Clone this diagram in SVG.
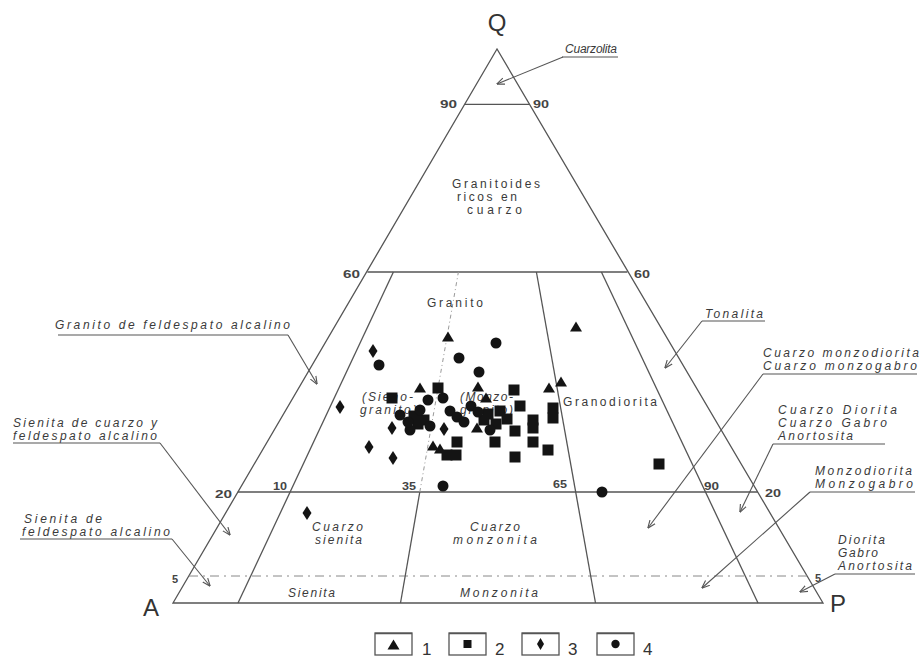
<svg xmlns="http://www.w3.org/2000/svg" width="921" height="666" viewBox="0 0 921 666">
<style>
.ln{stroke:#555;stroke-width:1.3;fill:none}
.dl{stroke:#888;stroke-width:1;fill:none;stroke-dasharray:9 5 2 5}
.dt{stroke:#999;stroke-width:1;fill:none;stroke-dasharray:4 3 1 3}
.ar{stroke:#555;stroke-width:1.1;fill:none;marker-end:url(#ah)}
.ul{stroke:#555;stroke-width:1.1;fill:none}
.t{font-family:"Liberation Sans",Arial,sans-serif;font-size:12px;fill:#3a3a3a;font-style:italic}
.tu{font-family:"Liberation Sans",Arial,sans-serif;font-size:12px;fill:#3a3a3a}
.n{font-family:"Liberation Sans",Arial,sans-serif;font-size:11px;fill:#444;font-weight:bold}
.v{font-family:"Liberation Sans",Arial,sans-serif;font-size:24px;fill:#333}
.lg{font-family:"Liberation Sans",Arial,sans-serif;font-size:17px;fill:#333}
.s{fill:#141414}
</style>
<defs>
<marker id="ah" viewBox="0 0 10 10" refX="9.5" refY="5" markerWidth="8" markerHeight="8" markerUnits="userSpaceOnUse" orient="auto">
<path d="M0,1 L10,5 L0,9" fill="none" stroke="#555" stroke-width="1.4"/>
</marker>
<polygon id="tri" points="0,-5.5 6,4.5 -6,4.5" class="s"/>
<rect id="sq" x="-5.5" y="-5.5" width="11" height="11" class="s"/>
<polygon id="dia" points="0,-7 4.5,0 0,7 -4.5,0" class="s"/>
<circle id="cir" r="5.5" class="s"/>
</defs>

<g id="frame">
<polygon class="ln" points="497,49 173,603 823,603"/>
<line class="ln" x1="464.6" y1="104.4" x2="529.6" y2="104.4"/>
<line class="ln" x1="367.4" y1="272" x2="627.4" y2="272"/>
<line class="ln" x1="237.8" y1="492" x2="757.8" y2="492"/>
<line class="dl" x1="189" y1="576" x2="807" y2="576"/>
<line class="ln" x1="238" y1="603" x2="393.4" y2="272"/>
<line class="ln" x1="400.5" y1="603" x2="419.8" y2="492"/>
<line class="dt" x1="419.8" y1="492" x2="458.4" y2="272"/>
<line class="ln" x1="595.5" y1="603" x2="536.4" y2="272"/>
<line class="ln" x1="758" y1="603" x2="601.4" y2="272"/>
</g>

<g id="vertex-labels">
<text class="v" x="497" y="31" text-anchor="middle" font-size="22">Q</text>
<text class="v" x="143" y="616">A</text>
<text class="v" x="830" y="612">P</text>
</g>

<g id="tick-labels">
<text class="n" x="440" y="108" textLength="17" lengthAdjust="spacingAndGlyphs">90</text>
<text class="n" x="533" y="108" textLength="16" lengthAdjust="spacingAndGlyphs">90</text>
<text class="n" x="343" y="278" textLength="17" lengthAdjust="spacingAndGlyphs">60</text>
<text class="n" x="634" y="278" textLength="16" lengthAdjust="spacingAndGlyphs">60</text>
<text class="n" x="215" y="498" textLength="17" lengthAdjust="spacingAndGlyphs">20</text>
<text class="n" x="765" y="497" textLength="16" lengthAdjust="spacingAndGlyphs">20</text>
<text class="n" x="273" y="490" textLength="14" lengthAdjust="spacingAndGlyphs">10</text>
<text class="n" x="402" y="490" textLength="14" lengthAdjust="spacingAndGlyphs">35</text>
<text class="n" x="553" y="488" textLength="14" lengthAdjust="spacingAndGlyphs">65</text>
<text class="n" x="704" y="490" textLength="15" lengthAdjust="spacingAndGlyphs">90</text>
<text class="n" x="172" y="583">5</text>
<text class="n" x="815" y="582">5</text>
</g>

<g id="field-labels">
<text class="tu" x="452" y="188" textLength="88" lengthAdjust="spacing">Granitoides</text>
<text class="tu" x="457" y="201" textLength="60" lengthAdjust="spacing">ricos en</text>
<text class="tu" x="467" y="214" textLength="55" lengthAdjust="spacing">cuarzo</text>
<text class="tu" x="427" y="307" textLength="56" lengthAdjust="spacing">Granito</text>
<text class="t" x="362" y="401" textLength="51" lengthAdjust="spacing">(Sieno-</text>
<text class="t" x="360" y="414" textLength="57" lengthAdjust="spacing">granito)</text>
<text class="t" x="460" y="401" textLength="53" lengthAdjust="spacing">(Monzo-</text>
<text class="t" x="460" y="414" textLength="53" lengthAdjust="spacing">granito)</text>
<text class="tu" x="563" y="406" textLength="94" lengthAdjust="spacing">Granodiorita</text>
<text class="t" x="312" y="531" textLength="51" lengthAdjust="spacing">Cuarzo</text>
<text class="t" x="315" y="544" textLength="47" lengthAdjust="spacing">sienita</text>
<text class="t" x="470" y="531" textLength="50" lengthAdjust="spacing">Cuarzo</text>
<text class="t" x="453" y="544" textLength="84" lengthAdjust="spacing">monzonita</text>
<text class="t" x="288" y="597" textLength="47" lengthAdjust="spacing">Sienita</text>
<text class="t" x="460" y="597" textLength="78" lengthAdjust="spacing">Monzonita</text>
</g>

<g id="callout-labels">
<text class="t" x="565" y="53" textLength="52" lengthAdjust="spacing">Cuarzolita</text>
<text class="t" x="55" y="329" textLength="235" lengthAdjust="spacing">Granito de feldespato alcalino</text>
<text class="t" x="13" y="427" textLength="144" lengthAdjust="spacing">Sienita de cuarzo y</text>
<text class="t" x="13" y="440" textLength="144" lengthAdjust="spacing">feldespato alcalino</text>
<text class="t" x="24" y="523" textLength="78" lengthAdjust="spacing">Sienita de</text>
<text class="t" x="22" y="536" textLength="148" lengthAdjust="spacing">feldespato alcalino</text>
<text class="t" x="705" y="318" textLength="58" lengthAdjust="spacing">Tonalita</text>
<text class="t" x="763" y="357" textLength="156" lengthAdjust="spacing">Cuarzo monzodiorita</text>
<text class="t" x="763" y="370" textLength="154" lengthAdjust="spacing">Cuarzo monzogabro</text>
<text class="t" x="778" y="414" textLength="119" lengthAdjust="spacing">Cuarzo Diorita</text>
<text class="t" x="778" y="427" textLength="109" lengthAdjust="spacing">Cuarzo Gabro</text>
<text class="t" x="778" y="440" textLength="75" lengthAdjust="spacing">Anortosita</text>
<text class="t" x="815" y="475" textLength="97" lengthAdjust="spacing">Monzodiorita</text>
<text class="t" x="815" y="488" textLength="98" lengthAdjust="spacing">Monzogabro</text>
<text class="t" x="838" y="544" textLength="47" lengthAdjust="spacing">Diorita</text>
<text class="t" x="838" y="557" textLength="40" lengthAdjust="spacing">Gabro</text>
<text class="t" x="838" y="570" textLength="74" lengthAdjust="spacing">Anortosita</text>
</g>

<g id="connectors">
<line class="ul" x1="562" y1="57" x2="618" y2="57"/>
<line class="ar" x1="563" y1="57" x2="497" y2="84"/>
<line class="ul" x1="58" y1="335" x2="288" y2="335"/>
<line class="ar" x1="288" y1="335" x2="317" y2="384"/>
<line class="ul" x1="13" y1="443" x2="160" y2="443"/>
<line class="ar" x1="160" y1="443" x2="230" y2="535"/>
<line class="ul" x1="20" y1="539" x2="172" y2="539"/>
<line class="ar" x1="172" y1="539" x2="210" y2="586"/>
<line class="ul" x1="702" y1="321" x2="765" y2="321"/>
<line class="ar" x1="702" y1="321" x2="665" y2="368"/>
<line class="ul" x1="763" y1="374" x2="917" y2="374"/>
<line class="ar" x1="763" y1="374" x2="648" y2="528"/>
<line class="ul" x1="773" y1="444" x2="885" y2="444"/>
<line class="ar" x1="773" y1="444" x2="740" y2="512"/>
<line class="ul" x1="810" y1="492" x2="915" y2="492"/>
<line class="ar" x1="810" y1="492" x2="702" y2="588"/>
<line class="ul" x1="835" y1="574" x2="915" y2="574"/>
<line class="ar" x1="835" y1="574" x2="800" y2="592"/>
</g>

<g id="data-points">
<use href="#tri" x="448" y="337"/>
<use href="#tri" x="576" y="327"/>
<use href="#tri" x="420" y="388"/>
<use href="#tri" x="478" y="387"/>
<use href="#tri" x="549" y="388"/>
<use href="#tri" x="561" y="382"/>
<use href="#tri" x="477" y="428"/>
<use href="#tri" x="440" y="449"/>
<use href="#tri" x="486" y="398"/>
<use href="#tri" x="433" y="446"/>
<use href="#sq" x="438" y="388"/>
<use href="#sq" x="514" y="390"/>
<use href="#sq" x="520" y="406"/>
<use href="#sq" x="553" y="408"/>
<use href="#sq" x="553" y="418"/>
<use href="#sq" x="533" y="420"/>
<use href="#sq" x="533" y="428"/>
<use href="#sq" x="515" y="431"/>
<use href="#sq" x="457" y="442"/>
<use href="#sq" x="495" y="442"/>
<use href="#sq" x="533" y="442"/>
<use href="#sq" x="548" y="450"/>
<use href="#sq" x="515" y="457"/>
<use href="#sq" x="447" y="455"/>
<use href="#sq" x="456" y="455"/>
<use href="#sq" x="659" y="464"/>
<use href="#sq" x="392" y="398"/>
<use href="#sq" x="414" y="416"/>
<use href="#sq" x="424" y="420"/>
<use href="#sq" x="488" y="414"/>
<use href="#sq" x="500" y="411"/>
<use href="#sq" x="496" y="424"/>
<use href="#sq" x="484" y="420"/>
<use href="#sq" x="507" y="419"/>
<use href="#sq" x="418" y="424"/>
<use href="#cir" x="496" y="343"/>
<use href="#cir" x="459" y="358"/>
<use href="#cir" x="379" y="365"/>
<use href="#cir" x="479" y="372"/>
<use href="#cir" x="428" y="400"/>
<use href="#cir" x="443" y="398"/>
<use href="#cir" x="400" y="415"/>
<use href="#cir" x="410" y="430"/>
<use href="#cir" x="443" y="486"/>
<use href="#cir" x="602" y="492"/>
<use href="#cir" x="450" y="411"/>
<use href="#cir" x="457" y="417"/>
<use href="#cir" x="464" y="422"/>
<use href="#cir" x="471" y="406"/>
<use href="#cir" x="420" y="410"/>
<use href="#cir" x="430" y="426"/>
<use href="#cir" x="408" y="422"/>
<use href="#cir" x="478" y="412"/>
<use href="#cir" x="490" y="430"/>
<use href="#dia" x="373" y="351"/>
<use href="#dia" x="340" y="407"/>
<use href="#dia" x="392" y="428"/>
<use href="#dia" x="444" y="429"/>
<use href="#dia" x="369" y="447"/>
<use href="#dia" x="393" y="458"/>
<use href="#dia" x="307" y="513"/>
</g>

<g id="legend">
<rect class="ln" x="375" y="633" width="37" height="22"/>
<line class="ln" x1="375" y1="633.5" x2="412" y2="633.5" stroke-width="2.5"/>
<use href="#tri" x="393.5" y="645"/>
<text class="lg" x="422" y="655">1</text>
<rect class="ln" x="449" y="633" width="37" height="22"/>
<line class="ln" x1="449" y1="633.5" x2="486" y2="633.5" stroke-width="2.5"/>
<rect x="463.5" y="640" width="8" height="8" class="s"/>
<text class="lg" x="495" y="655">2</text>
<rect class="ln" x="522" y="633" width="37" height="22"/>
<line class="ln" x1="522" y1="633.5" x2="559" y2="633.5" stroke-width="2.5"/>
<polygon points="540.5,638 544,644 540.5,650 537,644" class="s"/>
<text class="lg" x="568" y="655">3</text>
<rect class="ln" x="597" y="633" width="37" height="22"/>
<line class="ln" x1="597" y1="633.5" x2="634" y2="633.5" stroke-width="2.5"/>
<circle cx="615.5" cy="644" r="4.2" class="s"/>
<text class="lg" x="643" y="655">4</text>
</g>
</svg>
